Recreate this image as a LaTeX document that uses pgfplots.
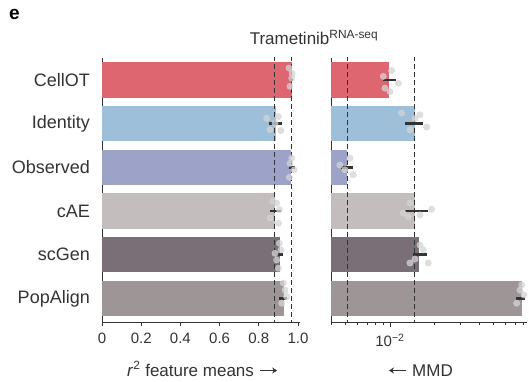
\documentclass[border=0pt]{standalone}
\usepackage{fontspec}
\setmainfont{Liberation Sans}
\usepackage{pgfplots}
\pgfplotsset{compat=1.18}
\usetikzlibrary{arrows.meta}
\definecolor{cCellOT}{HTML}{DE6670}
\definecolor{cIdentity}{HTML}{9DBFDA}
\definecolor{cObserved}{HTML}{9CA2C8}
\definecolor{ccAE}{HTML}{C3BDBE}
\definecolor{cscGen}{HTML}{7A6F77}
\definecolor{cPopAlign}{HTML}{9D9596}
\definecolor{axgray}{HTML}{333333}
\definecolor{dotgray}{HTML}{D4D4D4}
\pgfplotsset{
  common/.style={
    scale only axis, height=264pt,
    ymin=-0.54, ymax=5.5,
    axis x line*=bottom, axis y line*=left,
    axis line style={axgray, line width=0.8pt, -},
    tick style={axgray, line width=0.8pt},
    tick align=outside,
    ytick={0,1,2,3,4,5},
    y tick style={draw=none},
    xticklabel style={font=\fontsize{15}{18}\selectfont, text=axgray, inner sep=0pt, yshift=-7pt},
    clip=true,
  },
  mybar/.style={xbar, bar width=35.5pt, bar shift=0pt, draw=none, fill=#1},
  mydash/.style={axgray, line width=0.8pt, dash pattern=on 5pt off 3pt},
  mydots/.style={only marks, color=dotgray, mark=*, mark size=3.2pt,
    mark options={solid, fill=dotgray, draw=none, opacity=0.75}},
  myerr/.style={draw=none, mark=none, error bars/.cd, x dir=both, x explicit, error mark=none,
    error bar style={axgray, line width=2.6pt}},
}
\begin{document}
\begin{tikzpicture}[x=1pt,y=1pt]
\path[use as bounding box] (0,0) rectangle (529,381);
% left panel
\begin{axis}[common, at={(102pt,59pt)}, anchor=south west, width=198pt,
  xmin=0, xmax=1.0102,
  xtick={0,0.2,0.4,0.6,0.8,1.0}, xticklabels={0,0.2,0.4,0.6,0.8,1.0},
  major tick length=4pt,
  yticklabels={PopAlign,scGen,cAE,Observed,Identity,CellOT},
  yticklabel style={font=\fontsize{18}{21}\selectfont, text=axgray, anchor=east, inner sep=0pt, xshift=-8pt},
]
\addplot[mybar=cCellOT] coordinates {(0.968,5)};
\addplot[mybar=cIdentity] coordinates {(0.886,4)};
\addplot[mybar=cObserved] coordinates {(0.965,3)};
\addplot[mybar=ccAE] coordinates {(0.883,2)};
\addplot[mybar=cscGen] coordinates {(0.908,1)};
\addplot[mybar=cPopAlign] coordinates {(0.929,0)};
\addplot[mydash] coordinates {(0.88,-0.6) (0.88,5.6)};
\addplot[mydash] coordinates {(0.966,-0.6) (0.966,5.6)};
\addplot[mydots] coordinates {
 (0.954,5.27) (0.968,5.04) (0.959,4.85) (0.970,5.15)
 (0.840,4.12) (0.857,3.86) (0.900,4.16) (0.912,3.84) (0.883,4.01)
 (0.959,3.09) (0.980,2.94) (0.956,2.77) (0.968,3.21)
 (0.891,2.18) (0.905,2.03) (0.857,1.84) (0.900,1.72) (0.871,2.22)
 (0.905,1.26) (0.913,1.11) (0.891,0.88) (0.900,0.69) (0.883,1.03)
 (0.934,0.19) (0.942,0.04) (0.917,-0.11) (0.925,0.35)
};
\addplot[myerr] coordinates {
 (0.967,5) +- (0.010,0)
 (0.885,4) +- (0.033,0)
 (0.969,3) +- (0.015,0)
 (0.885,2) +- (0.028,0)
 (0.906,1) +- (0.018,0)
 (0.923,0) +- (0.020,0)
};
\end{axis}
% right panel
\begin{axis}[common, at={(331pt,59pt)}, anchor=south west, width=196pt,
  xmode=log, log origin x=infty,
  xmin=0.004, xmax=0.0843,
  xtick={0.01}, xticklabels={10\textsuperscript{−2}},
  minor xtick={0.004,0.005,0.006,0.007,0.008,0.009,0.02,0.03,0.04,0.05,0.06,0.07,0.08},
  major tick length=5pt, minor tick length=3pt,
  yticklabels={},
]
\addplot[mybar=cCellOT] coordinates {(0.0099,5)};
\addplot[mybar=cIdentity] coordinates {(0.0147,4)};
\addplot[mybar=cObserved] coordinates {(0.0051,3)};
\addplot[mybar=ccAE] coordinates {(0.0148,2)};
\addplot[mybar=cscGen] coordinates {(0.0157,1)};
\addplot[mybar=cPopAlign] coordinates {(0.0776,0)};
\addplot[mydash] coordinates {(0.00514,-0.6) (0.00514,5.6)};
\addplot[mydash] coordinates {(0.0147,-0.6) (0.0147,5.6)};
\addplot[mydots] coordinates {
 (0.01026,5.21) (0.00902,5.08) (0.01138,4.92) (0.00925,4.81) (0.0100,4.73)
 (0.01199,4.24) (0.01595,4.20) (0.01769,3.92) (0.01365,3.86) (0.01476,4.12)
 (0.00537,3.21) (0.00459,3.05) (0.00565,2.83) (0.00497,2.94)
 (0.01365,2.18) (0.01912,2.04) (0.01595,1.91) (0.01230,1.95) (0.01330,1.87)
 (0.01595,1.22) (0.01679,1.11) (0.01816,0.81) (0.01365,0.81) (0.01476,0.90)
 (0.0756,0.19) (0.0718,-0.11) (0.0804,0.08) (0.0776,0.31)
};
\addplot[myerr] coordinates {
 (0.0099,5) += (0.0011,0) -= (0.0009,0)
 (0.0147,4) += (0.0020,0) -= (0.0021,0)
 (0.0051,3) += (0.0005,0) -= (0.0004,0)
 (0.0148,2) += (0.0033,0) -= (0.0022,0)
 (0.0157,1) += (0.0021,0) -= (0.0014,0)
 (0.0776,0) += (0.0041,0) -= (0.0066,0)
};
\end{axis}
% texts
\node[anchor=base west, inner sep=0pt, font=\fontsize{19}{22}\selectfont\bfseries] at (9,361) {e};
\node[anchor=base, inner sep=0pt, font=\fontsize{17}{20}\selectfont, text=axgray] at (314,336) {Trametinib\textsuperscript{RNA-seq}};
\node[anchor=base west, inner sep=0pt, font=\fontsize{17}{20}\selectfont, text=axgray] (L) at (127,5) {\textit{r}\textsuperscript{2} feature means};
\draw[axgray, line width=1.3pt, -{Stealth[length=5pt,width=6pt]}] ([xshift=6pt,yshift=5.5pt]L.base east) -- ++(17,0);
\node[anchor=base west, inner sep=0pt, font=\fontsize{17}{20}\selectfont, text=axgray] (R) at (412,5) {MMD};
\draw[axgray, line width=1.3pt, -{Stealth[length=5pt,width=6pt]}] ([xshift=-6pt,yshift=5.5pt]R.base west) -- ++(-17,0);
\end{tikzpicture}
\end{document}
